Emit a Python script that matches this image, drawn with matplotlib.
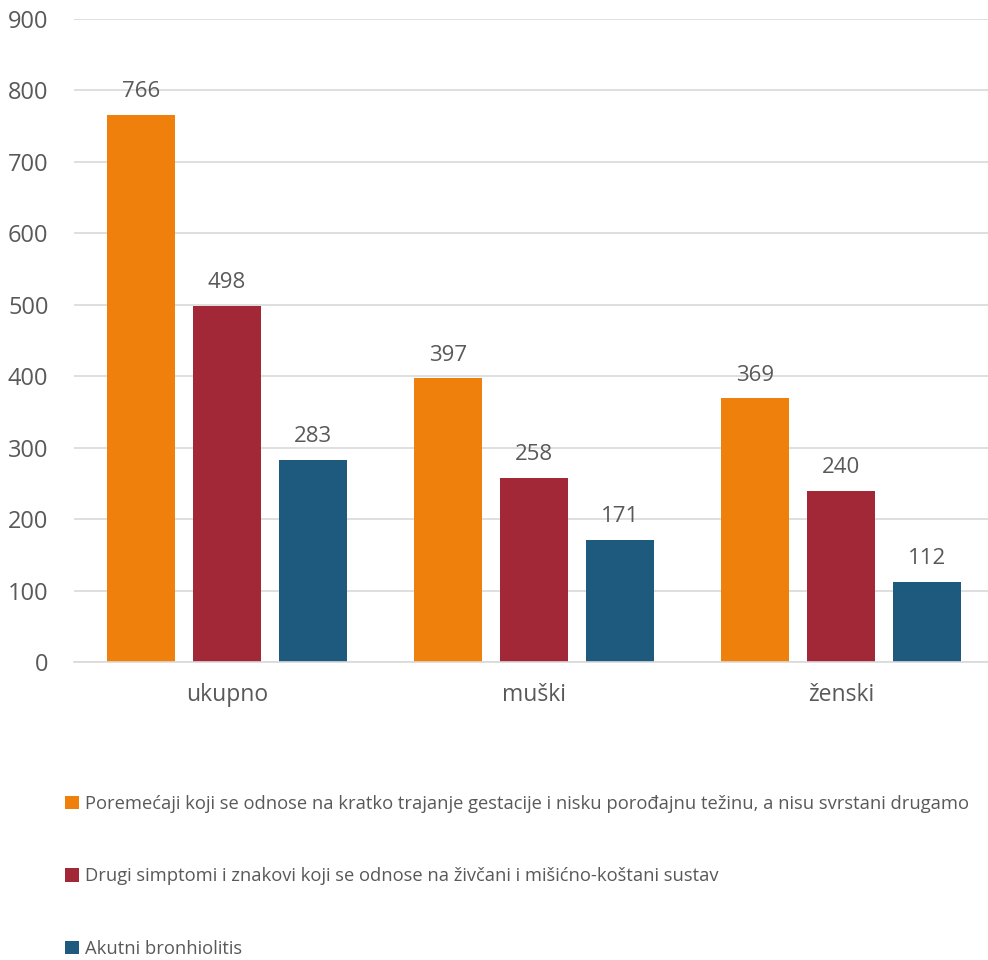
import numpy as np
import matplotlib.pyplot as plt
from matplotlib.patches import Patch

# Podaci
kategorije = ["ukupno", "muški", "ženski"]
serije = [
    "Poremećaji koji se odnose na kratko trajanje gestacije i nisku porođajnu težinu, a nisu svrstani drugamo",
    "Drugi simptomi i znakovi koji se odnose na živčani i mišićno-koštani sustav",
    "Akutni bronhiolitis",
]
poremecaji = [766, 397, 369]
simptomi = [498, 258, 240]
bronhiolitis = [283, 171, 112]
boje = ["#F0800C", "#A22838", "#1D5A7E"]

plt.rcParams['font.family'] = ['Open Sans', 'DejaVu Sans']
siva = "#595959"

fig = plt.figure(figsize=(9.88, 9.6), dpi=100, facecolor='white')
ax = fig.add_axes([73.5 / 988, 1 - 662 / 960, 921 / 988, (662 - 19) / 960])

x = np.arange(len(kategorije))
sirina = 0.222
razmak = 0.28
vrijednosti = [poremecaji, simptomi, bronhiolitis]
for i, (vals, boja) in enumerate(zip(vrijednosti, boje)):
    pos = x + (i - 1) * razmak
    ax.bar(pos, vals, width=sirina, color=boja, zorder=2)
    for p, v in zip(pos, vals):
        ax.text(p, v + 18, str(v), ha='center', va='bottom', fontsize=16, color=siva)

ax.set_xlim(-0.5, 2.5)
ax.set_ylim(0, 900)
ax.set_yticks(range(0, 901, 100))
ax.yaxis.grid(True, color='#D9D9D9', linewidth=1.2, zorder=0)
ax.set_axisbelow(True)
for s in ['top', 'right', 'left']:
    ax.spines[s].set_visible(False)
ax.spines['bottom'].set_color('#D9D9D9')
ax.spines['bottom'].set_linewidth(1.2)
ax.tick_params(axis='y', length=0, labelsize=17, labelcolor=siva, pad=18)
ax.tick_params(axis='x', length=0, labelsize=16.5, labelcolor=siva, pad=15)
ax.set_xticks(x)
ax.set_xticklabels(kategorije)

# Legenda
handles = [Patch(facecolor=b, edgecolor='none') for b in boje]
fig.legend(handles, serije, loc='upper left', bbox_to_anchor=(58 / 988, 1 - 788 / 960),
           frameon=False, fontsize=13.2, labelcolor=siva, handlelength=0.72, handleheight=0.72,
           handletextpad=0.35, labelspacing=2.95, borderaxespad=0)

fig.savefig("out.png", dpi=100, facecolor='white')
